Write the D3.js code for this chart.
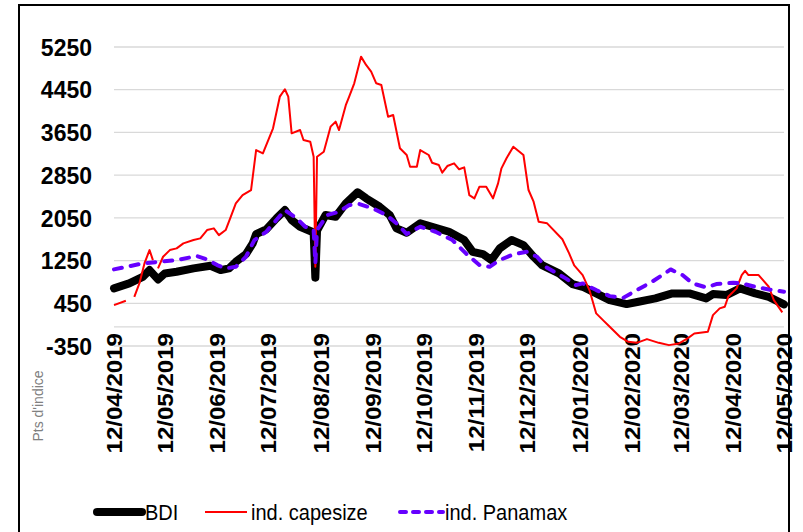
<!DOCTYPE html>
<html><head><meta charset="utf-8">
<script src="https://cdn.jsdelivr.net/npm/d3@7"></script>
<style>body{margin:0;background:#fff}svg{display:block}</style>
</head><body>
<svg id="chart" width="803" height="532"></svg>
<script>
const xTickLabels = ["12/04/2019","12/05/2019","12/06/2019","12/07/2019","12/08/2019","12/09/2019","12/10/2019","12/11/2019","12/12/2019","12/01/2020","12/02/2020","12/03/2020","12/04/2020","12/05/2020"];
const yTicks = [-350,450,1250,2050,2850,3650,4450,5250];
const seriesNames = ["BDI","ind. capesize","ind. Panamax"];

const bdiDates = ["2019-04-12","2019-04-21","2019-04-29","2019-05-03","2019-05-08","2019-05-12","2019-05-19","2019-05-29","2019-06-08","2019-06-14","2019-06-19","2019-06-23","2019-06-29","2019-07-03","2019-07-05","2019-07-11","2019-07-17","2019-07-22","2019-07-26","2019-07-31","2019-08-07","2019-08-08","2019-08-09","2019-08-10","2019-08-15","2019-08-21","2019-08-27","2019-09-03","2019-09-08","2019-09-16","2019-09-22","2019-09-26","2019-10-02","2019-10-10","2019-10-17","2019-10-27","2019-11-05","2019-11-10","2019-11-16","2019-11-21","2019-11-26","2019-12-03","2019-12-10","2019-12-16","2019-12-21","2019-12-31","2020-01-08","2020-01-14","2020-01-22","2020-01-30","2020-02-09","2020-02-16","2020-02-26","2020-03-07","2020-03-17","2020-03-27","2020-03-31","2020-04-08","2020-04-16","2020-04-25","2020-05-03","2020-05-12"];
const bdiValues = [720,813,937,1062,888,1000,1031,1094,1143,1062,1094,1218,1362,1563,1737,1825,2031,2187,2000,1874,1780,1760,920,1800,2093,2061,2312,2520,2406,2249,2093,1844,1762,1938,1874,1780,1625,1405,1362,1250,1469,1625,1531,1312,1156,1000,800,750,626,500,425,469,532,626,626,532,613,594,720,626,562,420];

const capeDates = ["2019-04-12","2019-04-19","2019-04-22","2019-04-24","2019-04-27","2019-04-30","2019-05-03","2019-05-05","2019-05-07","2019-05-08","2019-05-11","2019-05-15","2019-05-19","2019-05-23","2019-05-29","2019-06-02","2019-06-06","2019-06-10","2019-06-13","2019-06-17","2019-06-20","2019-06-23","2019-06-27","2019-07-02","2019-07-05","2019-07-09","2019-07-15","2019-07-19","2019-07-22","2019-07-24","2019-07-26","2019-07-31","2019-08-02","2019-08-06","2019-08-08","2019-08-09","2019-08-10","2019-08-14","2019-08-18","2019-08-21","2019-08-23","2019-08-27","2019-08-29","2019-09-01","2019-09-05","2019-09-08","2019-09-11","2019-09-14","2019-09-17","2019-09-21","2019-09-24","2019-09-28","2019-10-02","2019-10-04","2019-10-08","2019-10-10","2019-10-15","2019-10-17","2019-10-21","2019-10-23","2019-10-26","2019-10-30","2019-11-02","2019-11-05","2019-11-08","2019-11-11","2019-11-14","2019-11-18","2019-11-22","2019-11-25","2019-11-27","2019-11-30","2019-12-04","2019-12-10","2019-12-13","2019-12-16","2019-12-19","2019-12-24","2020-01-02","2020-01-06","2020-01-09","2020-01-14","2020-01-18","2020-01-22","2020-01-26","2020-01-30","2020-02-05","2020-02-10","2020-02-15","2020-02-21","2020-02-28","2020-03-05","2020-03-11","2020-03-16","2020-03-20","2020-03-28","2020-03-31","2020-04-04","2020-04-07","2020-04-09","2020-04-14","2020-04-17","2020-04-19","2020-04-21","2020-04-27","2020-05-03","2020-05-06","2020-05-11"];
const capeValues = [407,487,null,562,813,1188,1437,1250,null,1094,1312,1437,1469,1563,1625,1656,1812,1844,1718,1812,2061,2312,2468,2562,3311,3249,3718,4310,4449,4310,3624,3686,3499,3467,3186,1124,3186,3280,3749,3842,3686,4150,4310,4561,5060,4904,4779,4561,4530,3935,3967,3343,3218,2998,2998,3311,3218,3073,3030,2886,3011,3062,2950,2987,2468,2406,2624,2624,2406,2687,2968,3156,3373,3218,2562,2343,1968,1938,1640,1375,1150,969,688,251,125,0,-187,-281,-300,-230,-300,-343,-311,-217,-124,-94,219,345,375,562,720,969,1049,969,969,750,500,270];

const panaDates = ["2019-04-12","2019-04-29","2019-05-19","2019-05-31","2019-06-06","2019-06-12","2019-06-17","2019-06-23","2019-06-29","2019-07-04","2019-07-11","2019-07-17","2019-07-22","2019-07-29","2019-08-03","2019-08-08","2019-08-09","2019-08-10","2019-08-16","2019-08-23","2019-08-29","2019-09-04","2019-09-12","2019-09-20","2019-09-26","2019-10-02","2019-10-10","2019-10-19","2019-10-29","2019-11-06","2019-11-14","2019-11-20","2019-11-26","2019-12-04","2019-12-12","2019-12-18","2019-12-23","2020-01-04","2020-01-10","2020-01-14","2020-01-22","2020-01-30","2020-02-07","2020-02-15","2020-02-24","2020-03-06","2020-03-13","2020-03-19","2020-03-27","2020-04-02","2020-04-12","2020-04-17","2020-04-25","2020-05-03","2020-05-12"];
const panaValues = [1075,1188,1250,1325,1263,1156,1094,1124,1312,1625,1780,2000,2187,2031,1874,1812,1188,1812,2093,2155,2280,2300,2218,2093,1938,1737,1874,1780,1625,1375,1156,1124,1250,1356,1405,1312,1124,907,780,813,688,575,543,688,843,1075,969,813,738,800,825,813,750,700,656];

const parseISO = d3.timeParse("%Y-%m-%d");
const parseFR = d3.timeParse("%d/%m/%Y");
const zip = (ds, vs) => ds.map((d, i) => ({date: parseISO(d), v: vs[i]}));
const bdi = zip(bdiDates, bdiValues);
const cape = zip(capeDates, capeValues);
const pana = zip(panaDates, panaValues);

const svg = d3.select("#chart");
const FONT = "'Liberation Sans', Arial, sans-serif";

const x = d3.scaleTime()
  .domain([parseFR(xTickLabels[0]), parseFR(xTickLabels[xTickLabels.length - 1])])
  .range([114, 784]);
const y = d3.scaleLinear().domain([-350, 5250]).range([345.5, 46.5]);

// outer frame
svg.append("rect").attr("x", 19).attr("y", 5).attr("width", 770).attr("height", 540)
  .attr("fill", "none").attr("stroke", "#000").attr("stroke-width", 2);

// gridlines + value labels
const yAxis = d3.axisLeft(y).tickValues(yTicks).tickSize(-(784 - 114)).tickFormat(d => String(d));
const gy = svg.append("g").attr("transform", "translate(114,0)").call(yAxis);
gy.select(".domain").remove();
gy.selectAll(".tick line").attr("stroke", "#d9d9d9").attr("stroke-width", 1.3);
gy.selectAll(".tick text")
  .attr("x", -22).attr("y", 0).attr("dy", null).attr("dominant-baseline", "central")
  .attr("transform", "scale(1,1.07)")
  .style("font-family", FONT).style("font-size", "23px").style("font-weight", "bold").attr("fill", "#000");

// zero line (category axis)
svg.append("line").attr("x1", 114).attr("x2", 784).attr("y1", y(0)).attr("y2", y(0))
  .attr("stroke", "#d9d9d9").attr("stroke-width", 1.3);

// x tick labels
const xTickDates = xTickLabels.map(parseFR);
const xAxis = d3.axisBottom(x).tickValues(xTickDates).tickSize(0).tickFormat(d3.timeFormat("%d/%m/%Y"));
const gx = svg.append("g").attr("transform", "translate(0,333)").call(xAxis);
gx.select(".domain").remove();
gx.selectAll(".tick text")
  .attr("y", 0).attr("dy", null).attr("x", 0)
  .attr("text-anchor", "end").attr("dominant-baseline", "central")
  .attr("transform", "scale(1,1.07) rotate(-90)")
  .style("font-family", FONT).style("font-size", "22.5px").style("font-weight", "bold").attr("fill", "#000");

// axis title
svg.append("text").attr("transform", "translate(38,406) rotate(-90)")
  .attr("text-anchor", "middle").attr("dominant-baseline", "central")
  .style("font-family", FONT).style("font-size", "14px").attr("fill", "#808080").text("Pts d'indice");

// lines
const line = d3.line().defined(d => d.v !== null).x(d => x(d.date)).y(d => y(d.v));
svg.append("path").datum(bdi).attr("d", line).attr("fill", "none")
  .attr("stroke", "#000").attr("stroke-width", 8).attr("stroke-linejoin", "round").attr("stroke-linecap", "round");
svg.append("path").datum(cape).attr("d", line).attr("fill", "none")
  .attr("stroke", "#ff0000").attr("stroke-width", 2).attr("stroke-linejoin", "round");
svg.append("path").datum(pana).attr("d", line).attr("fill", "none")
  .attr("stroke", "#6600ff").attr("stroke-width", 4).attr("stroke-linejoin", "round")
  .attr("stroke-linecap", "round").attr("stroke-dasharray", "8,9");

// legend
const legendY = 512;
const legend = [
  {name: seriesNames[0], x1: 97, x2: 142, tx: 145, stroke: "#000", w: 8, dash: null, cap: "round"},
  {name: seriesNames[1], x1: 205, x2: 247, tx: 251, stroke: "#ff0000", w: 2, dash: null, cap: "butt"},
  {name: seriesNames[2], x1: 400, x2: 443, tx: 445, stroke: "#6600ff", w: 4, dash: "6,7", cap: "round"}
];
const lg = svg.append("g");
legend.forEach(l => {
  lg.append("line").attr("x1", l.x1).attr("x2", l.x2).attr("y1", legendY).attr("y2", legendY)
    .attr("stroke", l.stroke).attr("stroke-width", l.w).attr("stroke-linecap", l.cap)
    .attr("stroke-dasharray", l.dash);
  lg.append("text").attr("transform", `translate(${l.tx},${legendY}) scale(1,1.07)`)
    .attr("dominant-baseline", "central")
    .style("font-family", FONT).style("font-size", "20px").attr("fill", "#000").text(l.name);
});
</script>
</body></html>
